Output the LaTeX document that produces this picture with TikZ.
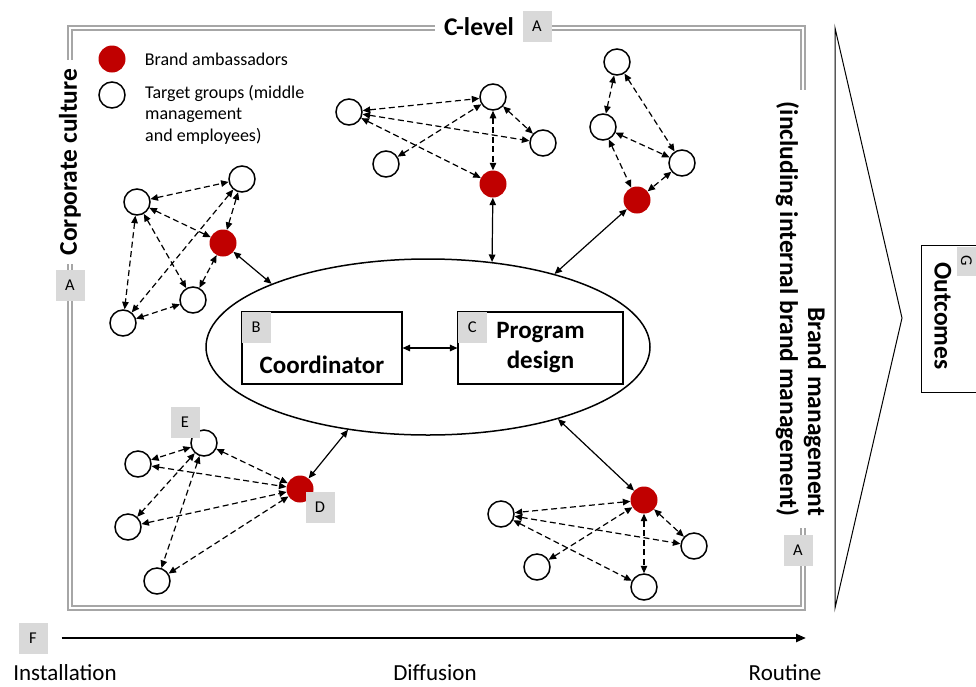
\documentclass[tikz,border=0pt]{standalone}
\usepackage{fontspec}
\setmainfont{Carlito}
\usetikzlibrary{arrows.meta,positioning,shapes.geometric}
\definecolor{ambred}{HTML}{C00000}
\definecolor{tagfill}{HTML}{D9D9D9}
\definecolor{framegray}{HTML}{A6A6A6}
\tikzset{
  tgnode/.style={circle, draw=black, line width=1.5pt, fill=white, minimum size=26pt, inner sep=0pt},
  ambnode/.style={circle, fill=ambred, minimum size=27pt, inner sep=0pt},
  lettertag/.style={rectangle, fill=tagfill, minimum width=29pt, minimum height=31pt, inner sep=0pt, font=\fontsize{16.5}{19}\selectfont},
  headtext/.style={fill=white, inner sep=9pt, font=\fontsize{25.5}{28}\selectfont\bfseries},
  boxtext/.style={inner sep=0pt, align=center, font=\fontsize{25}{30}\selectfont\bfseries},
  legendtext/.style={inner sep=0pt, align=left, font=\fontsize{18}{21.5}\selectfont},
  phasetext/.style={inner sep=0pt, font=\fontsize{23}{27}\selectfont},
  corebox/.style={rectangle, draw=black, line width=1.1pt, fill=white, minimum width=160pt, minimum height=72pt},
  peerarrow/.style={{Triangle[length=7.5pt,width=6.5pt]}-{Triangle[length=7.5pt,width=6.5pt]}, line width=1.2pt, dash pattern=on 6pt off 3.5pt},
  linkarrow/.style={{Triangle[length=7.5pt,width=6.5pt]}-{Triangle[length=7.5pt,width=6.5pt]}, line width=1.2pt}
}
\begin{document}
\begin{tikzpicture}[x=1pt, y=-1pt]
\clip (0,0) rectangle (976,686);
% frame and its headings
\draw[framegray, line width=1.5pt, double=white, double distance=2.6pt] (70,28) rectangle (803,608);
\node[headtext] (clevel) at (479,27) {C-level};
\node[lettertag] (tagtop) at (537,26) {A};
\node[headtext, rotate=90] (culture) at (70,162) {Corporate culture};
\node[lettertag] (tagleft) at (70,285) {A};
\node[headtext, rotate=-90, align=right, inner xsep=12pt] (brand) at (801,309) {Brand management\\(including internal brand management)};
\node[lettertag] (tagright) at (798,550) {A};
% legend
\node[ambnode] (legamb) at (112,59) {};
\node[tgnode] (legtg) at (112,95) {};
\node[legendtext, right=19pt of legamb] (legambtxt) {Brand ambassadors};
\node[legendtext, anchor=north west] (legtgtxt) at (145,85) {Target groups (middle\\management\\and employees)};
% core
\node[ellipse, draw=black, line width=1.5pt, minimum width=444pt, minimum height=176pt, inner sep=0pt] (core) at (428,347) {};
\node[corebox] (coord) at (322,348) {};
\node[boxtext] (coordtxt) at (322,365) {Coordinator};
\node[corebox, boxtext, minimum width=165pt] (prog) at (540.5,348) {Program\\design};
\node[lettertag, anchor=north west] (tagb) at (coord.north west) {B};
\node[lettertag, anchor=north west] (tagc) at (prog.north west) {C};
\draw[linkarrow] (coord) -- (prog);
% north cluster
\node[tgnode] (n1) at (349,112) {};
\node[tgnode] (n2) at (493,97) {};
\node[tgnode] (n3) at (543,143) {};
\node[tgnode] (n4) at (386,164) {};
\node[ambnode] (namb) at (493,184) {};
\draw[peerarrow] (n1) -- (n2);
\draw[peerarrow] (n1) -- (n3);
\draw[peerarrow] (n1) -- (namb);
\draw[peerarrow] (n4) -- (n2);
\draw[peerarrow] (n2) -- (namb);
\draw[peerarrow] (n2) -- (n3);
\draw[linkarrow] (namb) -- (core.53.5);
% north-east cluster
\node[tgnode] (ne1) at (617,62) {};
\node[tgnode] (ne2) at (603,127) {};
\node[tgnode] (ne3) at (682,163) {};
\node[ambnode] (neamb) at (637,200) {};
\draw[peerarrow] (ne1) -- (ne2);
\draw[peerarrow] (ne1) -- (ne3);
\draw[peerarrow] (ne2) -- (ne3);
\draw[peerarrow] (ne2) -- (neamb);
\draw[peerarrow] (ne3) -- (neamb);
\draw[linkarrow] (neamb) -- (core.30.6);
% west cluster
\node[tgnode] (w1) at (137,202) {};
\node[tgnode] (w2) at (242,179) {};
\node[tgnode] (w3) at (193,300) {};
\node[tgnode] (w4) at (123,323) {};
\node[ambnode] (wamb) at (223,243) {};
\draw[peerarrow] (w1) -- (w2);
\draw[peerarrow] (w1) -- (wamb);
\draw[peerarrow] (w1) -- (w4);
\draw[peerarrow] (w1) -- (w3);
\draw[peerarrow] (w2) -- (wamb);
\draw[peerarrow] (w2) -- (w4);
\draw[peerarrow] (w4) -- (w3);
\draw[peerarrow] (w3) -- (wamb);
\draw[linkarrow] (wamb) -- (core.158.8);
% south-west cluster
\node[tgnode] (sw1) at (204,443) {};
\node[tgnode] (sw2) at (138,464) {};
\node[tgnode] (sw3) at (128,527) {};
\node[tgnode] (sw4) at (157,581) {};
\node[ambnode] (swamb) at (300,489) {};
\draw[peerarrow] (sw1) -- (sw2);
\draw[peerarrow] (sw1) -- (swamb);
\draw[peerarrow] (sw2) -- (swamb);
\draw[peerarrow] (sw1) -- (sw3);
\draw[peerarrow] (sw1) -- (sw4);
\draw[peerarrow] (sw3) -- (swamb);
\draw[peerarrow] (sw4) -- (swamb);
\draw[linkarrow] (swamb) -- (core.226.7);
\node[lettertag] (tage) at (185,422) {E};
\node[lettertag] (tagd) at (320,507) {D};
% south-east cluster
\node[tgnode] (se1) at (501,514) {};
\node[tgnode] (se2) at (694,546) {};
\node[tgnode] (se3) at (537,567) {};
\node[tgnode] (se4) at (644,587) {};
\node[ambnode] (seamb) at (644,500) {};
\draw[peerarrow] (seamb) -- (se1);
\draw[peerarrow] (se1) -- (se2);
\draw[peerarrow] (se1) -- (se4);
\draw[peerarrow] (se3) -- (seamb);
\draw[peerarrow] (seamb) -- (se4);
\draw[peerarrow] (seamb) -- (se2);
\draw[linkarrow] (seamb) -- (core.331.2);
% outcomes
\draw[line width=1pt] (835,28) coordinate (chevtop) -- (902,318) coordinate (chevtip) -- (835,608) coordinate (chevbot) -- cycle;
\node[draw=black, line width=1pt, rotate=-90, minimum width=147pt, minimum height=90pt] (outbox) at (966,318.5) {};
\node[headtext, fill=none, inner sep=0pt, rotate=-90] (outtxt) at (943,316) {Outcomes};
\node[lettertag, rotate=-90, minimum height=19pt] (tagout) at (966.5,261) {G};
% time axis
\node[lettertag] (tagaxis) at (33,638) {F};
\coordinate (axisend) at (806,638);
\draw[-{Triangle[length=10pt,width=8pt]}, line width=2.2pt] ([xshift=14pt]tagaxis.east) -- (axisend);
\node[phasetext] (install) at (65,673) {Installation};
\node[phasetext] (diffuse) at (435,673) {Diffusion};
\node[phasetext] (routine) at (785,673) {Routine};
\end{tikzpicture}
\end{document}
